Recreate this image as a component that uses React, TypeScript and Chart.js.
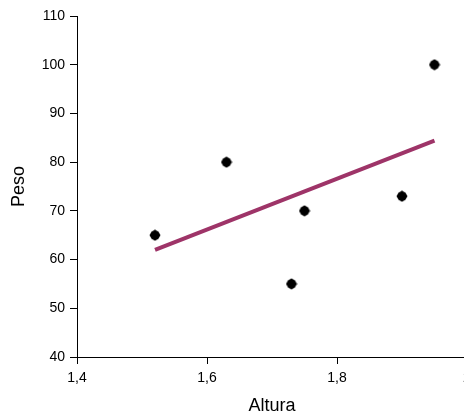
import React, { useEffect, useRef } from "react";
import { Chart, registerables } from "chart.js";

Chart.register(...registerables);

const alturas = [1.52, 1.63, 1.73, 1.75, 1.9, 1.95];
const pesos = [65, 80, 55, 70, 73, 100];
const trendX = [1.52, 1.95];
const trendY = [62.0, 84.4];
const xTicks = [1.4, 1.6, 1.8, 2];
const yTicks = [40, 50, 60, 70, 80, 90, 100, 110];

const FONT = "'Liberation Sans', Arial, sans-serif";

function makeMarker(): HTMLCanvasElement {
  const c = document.createElement("canvas");
  c.width = 12;
  c.height = 12;
  const g = c.getContext("2d")!;
  g.fillStyle = "#000";
  g.beginPath();
  g.arc(6, 6, 4.8, 0, Math.PI * 2);
  g.fill();
  g.beginPath();
  g.moveTo(6, 0.3);
  g.lineTo(11.7, 6);
  g.lineTo(6, 11.7);
  g.lineTo(0.3, 6);
  g.closePath();
  g.fill();
  return c;
}

export default function App() {
  const ref = useRef<HTMLCanvasElement | null>(null);

  useEffect(() => {
    if (!ref.current) return;
    const marker = makeMarker();
    const chart = new Chart(ref.current, {
      type: "scatter",
      data: {
        datasets: [
          {
            type: "line",
            label: "Tendencia",
            data: trendX.map((x, i) => ({ x, y: trendY[i] })),
            borderColor: "#9E3468",
            borderWidth: 4,
            pointRadius: 0,
            fill: false,
          },
          {
            label: "Peso",
            data: alturas.map((x, i) => ({ x, y: pesos[i] })),
            backgroundColor: "#000",
            borderColor: "#000",
            pointStyle: marker as any,
            pointRadius: 6,
            borderWidth: 0,
          },
        ],
      },
      options: {
        animation: false,
        responsive: true,
        maintainAspectRatio: false,
        layout: { padding: { top: 8, right: 11, left: 0, bottom: 0 } },
        plugins: { legend: { display: false }, tooltip: { enabled: false } },
        scales: {
          x: {
            type: "linear",
            min: xTicks[0],
            max: xTicks[xTicks.length - 1],
            afterBuildTicks: (s: any) => {
              s.ticks = xTicks.map((v) => ({ value: v }));
            },
            afterFit: (s: any) => {
              s.height = 60;
              s.paddingLeft = 0;
              s.paddingRight = 0;
            },
            grid: { drawOnChartArea: false, drawTicks: true, tickLength: 7, color: "#000" },
            border: { display: true, color: "#000", width: 1 },
            ticks: {
              padding: 6,
              color: "#000",
              font: { family: FONT, size: 14 },
              maxRotation: 0,
              autoSkip: false,
              callback: (v: any) => String(Number(Number(v).toFixed(1))).replace(".", ","),
            },
            title: {
              display: true,
              text: "Altura",
              color: "#000",
              font: { family: FONT, size: 18 },
              padding: 0,
            },
          },
          y: {
            type: "linear",
            min: yTicks[0],
            max: yTicks[yTicks.length - 1],
            afterBuildTicks: (s: any) => {
              s.ticks = yTicks.map((v) => ({ value: v }));
            },
            afterFit: (s: any) => {
              s.width = 69;
              s.paddingTop = 0;
              s.paddingBottom = 0;
            },
            grid: { drawOnChartArea: false, drawTicks: true, tickLength: 7, color: "#000" },
            border: { display: true, color: "#000", width: 1 },
            ticks: {
              padding: 5,
              color: "#000",
              font: { family: FONT, size: 14 },
            },
            title: {
              display: true,
              text: "Peso",
              color: "#000",
              font: { family: FONT, size: 18 },
              padding: 0,
            },
          },
        },
      },
    });
    return () => chart.destroy();
  }, []);

  return (
    <div
      style={{
        position: "fixed",
        left: 0,
        top: 0,
        width: 464,
        height: 417,
        overflow: "hidden",
        background: "#fff",
      }}
    >
      <div style={{ position: "absolute", left: 8, top: 8, width: 470, height: 409 }}>
        <canvas ref={ref} />
      </div>
    </div>
  );
}
